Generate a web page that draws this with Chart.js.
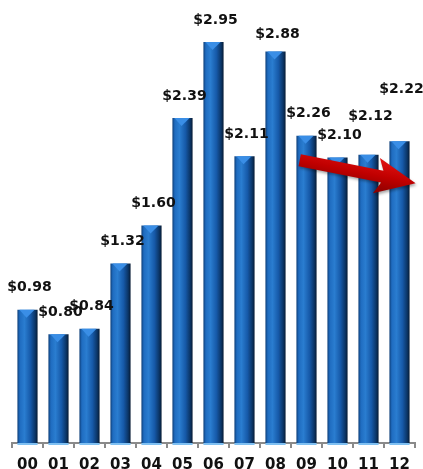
<!DOCTYPE html>
<html>
<head>
<meta charset="utf-8">
<script src="https://cdn.jsdelivr.net/npm/chart.js@4/dist/chart.umd.min.js"></script>
<style>
  html, body { margin: 0; padding: 0; background: #fff; }
  #wrap { width: 423px; height: 469px; }
</style>
</head>
<body>
<div id="wrap"><canvas id="barChartDiv" width="423" height="469"></canvas></div>
<script>
var years = ["00", "01", "02", "03", "04", "05", "06", "07", "08", "09", "10", "11", "12"];
var values = [0.98, 0.80, 0.84, 1.32, 1.60, 2.39, 2.95, 2.11, 2.88, 2.26, 2.10, 2.12, 2.22];

// a couple of labels sit higher above their bar in the original
var extraLift = { 8: -5, 11: 16, 12: 30 };

var barShare = 0.65;

function barGradient(c) {
	var chart = c.chart;
	var xs = chart.scales.x;
	if (!xs || !chart.chartArea) return '#1a63b5';
	var cx = xs.getPixelForValue(c.dataIndex);
	var half = (xs.width / years.length) * barShare / 2;
	var g = chart.ctx.createLinearGradient(cx - half, 0, cx + half, 0);
	g.addColorStop(0, '#0d3e78');
	g.addColorStop(0.12, '#1f6cc0');
	g.addColorStop(0.35, '#2a7dd0');
	g.addColorStop(0.65, '#1659a8');
	g.addColorStop(0.88, '#0b3566');
	g.addColorStop(1, '#061a33');
	return g;
}

var decor = {
	id: 'decor',
	afterDatasetsDraw: function(chart) {
		var ctx = chart.ctx;
		var meta = chart.getDatasetMeta(0);
		var xs = chart.scales.x, ys = chart.scales.y;
		ctx.save();
		meta.data.forEach(function(bar, i) {
			var l = bar.x - bar.width / 2, r = bar.x + bar.width / 2;
			// bevel on top
			ctx.fillStyle = '#3a8ee6';
			ctx.beginPath();
			ctx.moveTo(l + 2, bar.y);
			ctx.lineTo(r - 3, bar.y);
			ctx.lineTo(bar.x - 1, bar.y + 8);
			ctx.closePath();
			ctx.fill();
			// light foot
			ctx.fillStyle = '#7fc0f2';
			ctx.fillRect(l, bar.base, bar.width, 2);
			// value label
			ctx.fillStyle = '#111';
			ctx.font = 'bold 14px "DejaVu Sans"';
			ctx.textAlign = 'center';
			ctx.textBaseline = 'middle';
			var lift = 22 + (extraLift[i] || 0);
			ctx.fillText('$' + values[i].toFixed(2), bar.x + 2, bar.y - lift);
		});

		// red trend arrow
		var x0 = xs.getPixelForValue(8.78), y0 = ys.getPixelForValue(2.08);
		var x1 = xs.getPixelForValue(12.52), y1 = ys.getPixelForValue(1.91);
		var ang = Math.atan2(y1 - y0, x1 - x0);
		var len = Math.hypot(x1 - x0, y1 - y0);
		ctx.translate(x0, y0);
		ctx.rotate(ang);
		ctx.shadowColor = 'rgba(0,0,0,0.35)';
		ctx.shadowBlur = 3;
		ctx.shadowOffsetX = 1;
		ctx.shadowOffsetY = 2;
		var g = ctx.createLinearGradient(0, -17, 0, 17);
		g.addColorStop(0, '#e01010');
		g.addColorStop(0.5, '#c00000');
		g.addColorStop(1, '#8a0000');
		ctx.fillStyle = g;
		ctx.beginPath();
		ctx.moveTo(0, -6);
		ctx.lineTo(len - 34, -6);
		ctx.lineTo(len - 40, -18);
		ctx.lineTo(len, 0);
		ctx.lineTo(len - 40, 18);
		ctx.lineTo(len - 34, 6);
		ctx.lineTo(0, 6);
		ctx.closePath();
		ctx.fill();
		ctx.restore();
	}
};

var barChart = new Chart(document.getElementById('barChartDiv'), {
	type: 'bar',
	data: {
		labels: years,
		datasets: [{
			data: values,
			backgroundColor: barGradient,
			borderWidth: 0,
			categoryPercentage: 1,
			barPercentage: barShare
		}]
	},
	options: {
		responsive: false,
		animation: false,
		layout: { padding: { left: 12, right: 8, top: 8, bottom: -13 } },
		plugins: { legend: { display: false }, tooltip: { enabled: false } },
		scales: {
			x: {
				grid: { drawOnChartArea: false, color: '#8a8a8a', lineWidth: 2, tickLength: 5, offset: true },
				border: { color: '#8a8a8a', width: 2 },
				ticks: {
					color: '#111',
					padding: 11,
					font: { family: '"DejaVu Sans"', size: 15, weight: 'bold', lineHeight: 0.8 }
				}
			},
			y: { display: false, min: 0, max: 3.2 }
		}
	},
	plugins: [decor]
});
</script>
</body>
</html>
